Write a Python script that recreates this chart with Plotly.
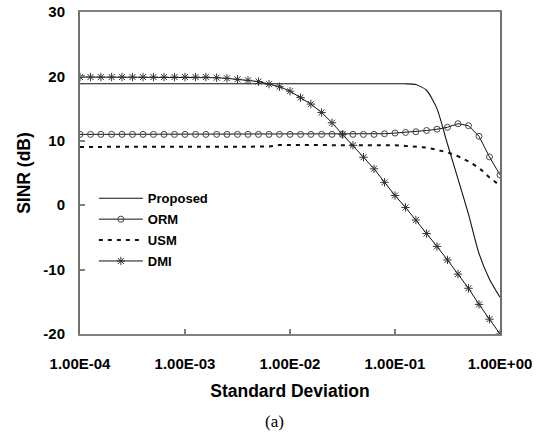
import plotly.graph_objects as go

# x grid: standard deviation values (0.1-decade steps from 1e-4 to 1)
std_dev = [
    1.00e-4, 1.26e-4, 1.58e-4, 2.00e-4, 2.51e-4, 3.16e-4, 3.98e-4, 5.01e-4, 6.31e-4, 7.94e-4,
    1.00e-3, 1.26e-3, 1.58e-3, 2.00e-3, 2.51e-3, 3.16e-3, 3.98e-3, 5.01e-3, 6.31e-3, 7.94e-3,
    1.00e-2, 1.26e-2, 1.58e-2, 2.00e-2, 2.51e-2, 3.16e-2, 3.98e-2, 5.01e-2, 6.31e-2, 7.94e-2,
    1.00e-1, 1.26e-1, 1.58e-1, 2.00e-1, 2.51e-1, 3.16e-1, 3.98e-1, 5.01e-1, 6.31e-1, 7.94e-1,
    1.00,
]

proposed = [
    18.85, 18.85, 18.85, 18.85, 18.85, 18.85, 18.85, 18.85, 18.85, 18.85,
    18.85, 18.85, 18.85, 18.85, 18.85, 18.85, 18.85, 18.85, 18.85, 18.85,
    18.85, 18.85, 18.85, 18.85, 18.85, 18.85, 18.85, 18.85, 18.85, 18.85,
    18.85, 18.85, 18.75, 17.85, 15.0, 9.5, 4.1, -1.4, -7.5, -11.5,
    -14.3,
]

orm = [
    11.0, 11.0, 11.0, 11.0, 11.0, 11.0, 11.0, 11.0, 11.0, 11.0,
    11.0, 11.0, 11.0, 11.0, 11.0, 11.0, 11.0, 11.0, 11.0, 11.0,
    11.0, 11.0, 11.0, 11.0, 11.0, 11.0, 11.0, 11.0, 11.0, 11.1,
    11.2, 11.3, 11.4, 11.6, 11.8, 12.1, 12.65, 12.35, 10.7, 7.5,
    4.7,
]

usm = [
    9.05, 9.05, 9.05, 9.05, 9.05, 9.05, 9.05, 9.05, 9.05, 9.05,
    9.05, 9.05, 9.05, 9.05, 9.05, 9.05, 9.05, 9.05, 9.1, 9.35,
    9.35, 9.35, 9.35, 9.35, 9.35, 9.35, 9.35, 9.35, 9.35, 9.35,
    9.3, 9.2, 9.1, 8.95, 8.6, 8.2, 7.6, 6.8, 5.8, 4.3,
    3.05,
]

dmi = [
    19.9, 19.9, 19.9, 19.9, 19.9, 19.9, 19.9, 19.9, 19.9, 19.9,
    19.9, 19.9, 19.9, 19.8, 19.7, 19.55, 19.4, 19.2, 18.8, 18.4,
    17.7, 16.7, 15.7, 14.4, 12.8, 11.0, 9.3, 7.45, 5.65, 3.55,
    1.5, -0.35, -2.3, -4.4, -6.4, -8.5, -10.7, -12.9, -15.4, -17.7,
    -20.0,
]

x_tickvals = [1e-4, 1e-3, 1e-2, 1e-1, 1.0]
x_ticktext = ["1.00E-04", "1.00E-03", "1.00E-02", "1.00E-01", "1.00E+00"]
y_tickvals = [-20, -10, 0, 10, 20, 30]
y_ticktext = ["-20", "-10", "0", "10", "20", "30"]

SANS = "Arial, Liberation Sans, sans-serif"

fig = go.Figure()
fig.add_trace(go.Scatter(
    x=std_dev, y=proposed, name="Proposed", mode="lines", legendgroup="a",
    line=dict(color="#111111", width=1.1, shape="spline", smoothing=0.6),
))
fig.add_trace(go.Scatter(
    x=std_dev, y=orm, name="ORM", mode="lines+markers", legendgroup="b",
    line=dict(color="#111111", width=1),
    marker=dict(symbol="circle-open", size=6, color="#444444", line=dict(width=1, color="#444444")),
))
fig.add_trace(go.Scatter(
    x=std_dev, y=usm, name="USM", mode="lines", legendgroup="c",
    line=dict(color="#111111", width=2, dash="4px,5px"),
))
fig.add_trace(go.Scatter(
    x=std_dev, y=dmi, name="DMI", mode="lines+markers", legendgroup="d",
    line=dict(color="#111111", width=1),
    marker=dict(symbol="asterisk-open", size=7, color="#333333", line=dict(width=1, color="#333333")),
))

fig.update_layout(
    width=549, height=433,
    margin=dict(l=80, r=49, t=12, b=99, autoexpand=False),
    paper_bgcolor="white", plot_bgcolor="white",
    font=dict(family=SANS, color="black"),
    showlegend=True,
    legend=dict(
        x=0.033, y=0.468, xanchor="left", yanchor="top",
        bgcolor="rgba(0,0,0,0)", borderwidth=0,
        font=dict(family=SANS, size=13, color="black", weight="bold"),
        itemwidth=44, traceorder="grouped", tracegroupgap=1,
    ),
    xaxis=dict(
        type="log", range=[-4, 0], automargin=False,
        tickvals=x_tickvals, ticktext=x_ticktext,
        ticks="inside", ticklen=5, tickcolor="#808080", tickwidth=1.5,
        showline=True, linecolor="#808080", linewidth=2, mirror=True,
        showgrid=False, zeroline=False,
        tickfont=dict(family=SANS, size=15, color="black", weight="bold"),
        ticklabelstandoff=15, ticklabeloverflow="allow",
        title=dict(text="<b>Standard Deviation</b>", font=dict(family=SANS, size=17.5, color="black"), standoff=14),
    ),
    yaxis=dict(
        range=[-20, 30], automargin=False,
        tickvals=y_tickvals, ticktext=y_ticktext,
        ticks="inside", ticklen=5, tickcolor="#808080", tickwidth=1.5,
        showline=True, linecolor="#707070", linewidth=2, mirror=True,
        showgrid=False, zeroline=False,
        tickfont=dict(family=SANS, size=15, color="black", weight="bold"),
        ticklabelstandoff=10, ticklabeloverflow="allow",
        title=dict(text="<b>SINR (dB)</b>", font=dict(family=SANS, size=17.5, color="black"), standoff=8),
    ),
    annotations=[dict(
        text="(a)", xref="paper", yref="paper",
        x=(274 - 80) / 420, y=-(421 - 334) / 322,
        xanchor="center", yanchor="middle", showarrow=False,
        font=dict(family="Liberation Serif, serif", size=17, color="black"),
    )],
)

fig.write_html(
    "out.html",
    config={"displayModeBar": False},
    post_script="document.body.style.margin='0px';",
)
